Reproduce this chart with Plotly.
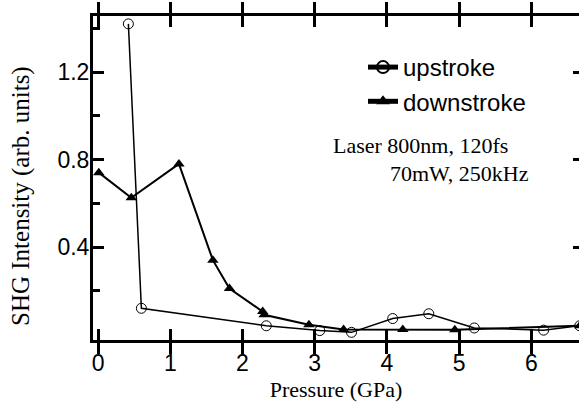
import plotly.graph_objects as go

# Data
up_x = [0.42, 0.60, 2.33, 3.07, 3.51, 4.08, 4.58, 5.21, 6.17, 6.67]
up_y = [1.42, 0.12, 0.04, 0.018, 0.01, 0.073, 0.095, 0.03, 0.02, 0.04]

down_x = [0.01, 0.46, 1.12, 1.59, 1.82, 2.28, 2.30, 2.92, 3.40, 4.22, 4.94, 6.67]
down_y = [0.74, 0.625, 0.78, 0.34, 0.21, 0.105, 0.09, 0.045, 0.023, 0.023, 0.022, 0.04]

x_ticks = [0, 1, 2, 3, 4, 5, 6]
y_ticks = [0.4, 0.8, 1.2]
y_tick_text = ["0.4", "0.8", "1.2"]

W, H = 579, 402
L, R, T, B = 93, 0, 16, 62
PW, PH = W - L - R, H - T - B
X_RANGE = [-0.07, 6.66]
Y_RANGE = [-0.025, 1.456]

def px(x):
    return (x - L) / PW

def py(y):
    return (H - B - y) / PH

fig = go.Figure()
fig.add_trace(go.Scatter(
    x=up_x, y=up_y, name="upstroke", mode="lines+markers",
    line=dict(color="black", width=1.5),
    marker=dict(symbol="circle-open", size=10, color="black", line=dict(width=1)),
))
fig.add_trace(go.Scatter(
    x=down_x, y=down_y, name="downstroke", mode="lines+markers",
    line=dict(color="black", width=2),
    marker=dict(symbol="triangle-up", size=10, color="black"),
))
# invisible traces for right-side and bottom ticks
fig.add_trace(go.Scatter(x=[None], y=[None], yaxis="y2", showlegend=False, hoverinfo="skip"))
fig.add_trace(go.Scatter(x=[None], y=[None], xaxis="x2", showlegend=False, hoverinfo="skip"))

tickfont = dict(family="Liberation Sans, Arial", size=23, color="black")
fig.update_layout(
    width=W, height=H,
    margin=dict(l=L, r=R, t=T, b=B, autoexpand=False),
    paper_bgcolor="white", plot_bgcolor="white",
    showlegend=True,
    legend=dict(
        x=px(363), y=py(45), xanchor="left", yanchor="top",
        font=dict(family="Liberation Sans, Arial", size=24, color="black"),
        bgcolor="rgba(0,0,0,0)", itemsizing="constant",
    ),
    xaxis=dict(
        range=X_RANGE, tickvals=x_ticks, ticks="inside", ticklen=11, tickwidth=3,
        tickcolor="black",
        showline=True, linewidth=3, linecolor="black", mirror="allticks",
        showgrid=False, zeroline=False, tickfont=tickfont, automargin=False,
        title=dict(text="Pressure (GPa)", font=dict(family="Liberation Serif, Times New Roman", size=22, color="black"), standoff=9),
    ),
    xaxis2=dict(
        overlaying="x", side="bottom", anchor="y", range=X_RANGE, tickvals=x_ticks,
        ticks="inside", ticklen=11, tickwidth=3, tickcolor="black", showticklabels=False,
        showline=False, showgrid=False, zeroline=False, automargin=False,
    ),
    yaxis=dict(
        range=Y_RANGE, tickvals=y_ticks, ticktext=y_tick_text, ticks="inside", ticklen=11, tickwidth=3,
        tickcolor="black", ticklabelstandoff=-4,
        showline=True, linewidth=3, linecolor="black", mirror=False,
        showgrid=False, zeroline=False, tickfont=tickfont, automargin=False,
        minor=dict(tick0=0.2, dtick=0.4, ticks="inside", ticklen=7, tickwidth=3, tickcolor="black"),
    ),
    yaxis2=dict(
        overlaying="y", side="right", range=Y_RANGE, tickvals=y_ticks,
        ticks="inside", ticklen=6, tickwidth=3, tickcolor="black", showticklabels=False,
        showline=False, showgrid=False, zeroline=False, automargin=False,
    ),
    annotations=[
        dict(text="SHG Intensity (arb. units)", xref="paper", yref="paper",
             x=px(21), y=py(196), xanchor="center", yanchor="middle", textangle=-90, showarrow=False,
             font=dict(family="Liberation Serif, Times New Roman", size=25, color="black")),
        dict(text="Laser 800nm, 120fs", xref="paper", yref="paper",
             x=px(331), y=py(145), xanchor="left", yanchor="middle", showarrow=False,
             font=dict(family="Liberation Serif, Times New Roman", size=22, color="black")),
        dict(text="70mW, 250kHz", xref="paper", yref="paper",
             x=px(531), y=py(173), xanchor="right", yanchor="middle", showarrow=False,
             font=dict(family="Liberation Serif, Times New Roman", size=22, color="black")),
    ],
)

fig.write_html("out.html", config={"displayModeBar": False},
               post_script="document.body.style.margin='0';document.body.style.overflow='hidden';")
